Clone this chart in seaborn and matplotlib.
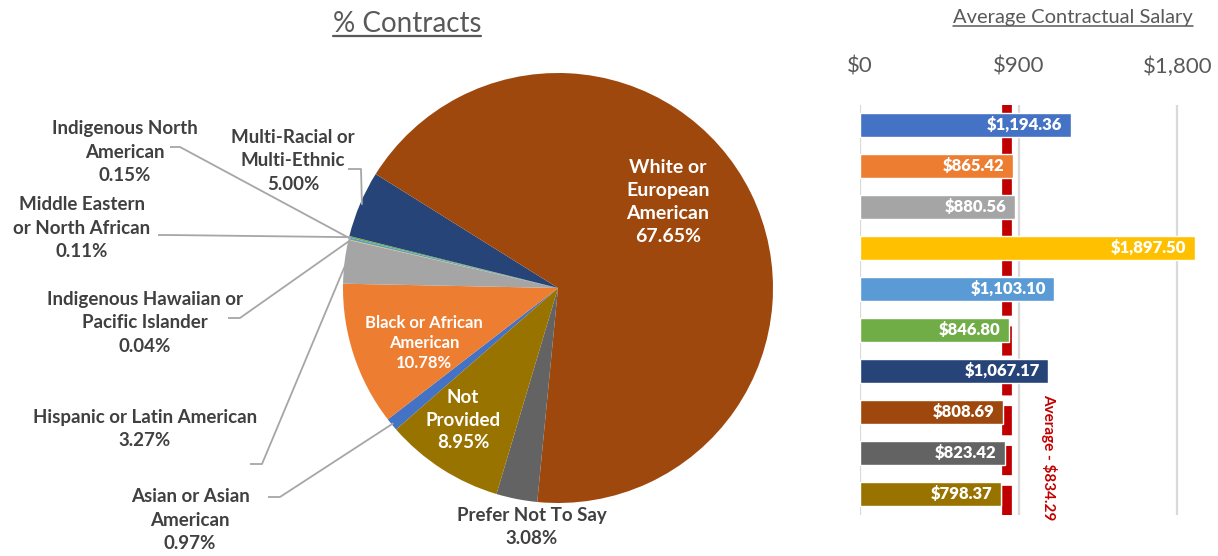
import numpy as np
import pandas as pd
import matplotlib.pyplot as plt
from matplotlib.lines import Line2D
import seaborn as sns

# data
groups = ['Asian or Asian American', 'Black or African American', 'Hispanic or Latin American',
          'Indigenous Hawaiian or Pacific Islander', 'Indigenous North American',
          'Middle Eastern or North African', 'Multi-Racial or Multi-Ethnic',
          'White or European American', 'Prefer Not To Say', 'Not Provided']
pct = [0.97, 10.78, 3.27, 0.04, 0.15, 0.11, 5.00, 67.65, 3.08, 8.95]
salary = [1194.36, 865.42, 880.56, 1897.50, 1103.10, 846.80, 1067.17, 808.69, 823.42, 798.37]
avg_salary = 834.29
colors = ['#4472C4', '#ED7D31', '#A5A5A5', '#FFC000', '#5B9BD5',
          '#70AD47', '#264478', '#9E480E', '#636363', '#997300']
pie_text = ['Asian or Asian\nAmerican', 'Black or African\nAmerican', 'Hispanic or Latin American',
            'Indigenous Hawaiian or\nPacific Islander', 'Indigenous North\nAmerican',
            'Middle Eastern\nor North African', 'Multi-Racial or\nMulti-Ethnic',
            'White or\nEuropean\nAmerican', 'Prefer Not To Say', 'Not\nProvided']
salary_ticks = [0, 900, 1800]

sns.set_style('white')
plt.rcParams['font.family'] = ['Lato', 'DejaVu Sans']

W, H = 1218, 556
fig = plt.figure(figsize=(W / 100, H / 100), dpi=100)

# ---- pie (axes in pixel units, y up) ----
ax = fig.add_axes([0, 0, 1, 1])
cx, cy, R = 558, H - 288, 215
wedges, _ = ax.pie(pct, colors=colors, startangle=221.15, counterclock=False,
                   center=(cx, cy), radius=R, wedgeprops=dict(linewidth=0))
ax.set_xlim(0, W)
ax.set_ylim(0, H)
ax.set_aspect('equal')
ax.axis('off')

dark = '#404040'
grey_line = '#A6A6A6'


def edge_point(i, r=R):
    w = wedges[i]
    a = np.deg2rad((w.theta1 + w.theta2) / 2)
    return cx + r * np.cos(a), cy + r * np.sin(a)


# outside labels: index, text pos (px from top), elbow start, elbow end
outside = [
    (4, (125, 152), (170, 147), (180, 147)),
    (6, (293, 161), (348, 169), (361, 169)),
    (5, (82, 228), (158, 235), (168, 235)),
    (3, (145, 323), (228, 318), (240, 318)),
    (2, (145, 429), (250, 464), (262, 464)),
    (0, (190, 520), (268, 497), (280, 497)),
]
for i, (tx, ty), (x1, y1), (x2, y2) in outside:
    ax.text(tx, H - ty, f'{pie_text[i]}\n{pct[i]:.2f}%', ha='center', va='center',
            fontsize=13.5, fontweight='bold', color=dark, linespacing=1.45)
    ex, ey = edge_point(i, R - 2)
    ax.plot([x1, x2, ex], [H - y1, H - y2, ey], color=grey_line, lw=1.3,
            solid_capstyle='butt')

ax.text(532, H - 527, f'{pie_text[8]}\n{pct[8]:.2f}%', ha='center', va='center',
        fontsize=13.5, fontweight='bold', color=dark, linespacing=1.45)

inside = [(7, (668, 202), 14, 1.45), (1, (424, 343), 12, 1.33), (9, (463, 420), 13.5, 1.42)]
for i, (tx, ty), fs, ls in inside:
    ax.text(tx, H - ty, f'{pie_text[i]}\n{pct[i]:.2f}%', ha='center', va='center',
            fontsize=fs, fontweight='bold', color='white', linespacing=ls)

# ---- bars ----
df = pd.DataFrame({'group': groups, 'salary': salary})
bx = fig.add_axes([860 / W, (H - 514.5) / H, 335 / W, 410 / H])
sns.barplot(data=df, x='salary', y='group', hue='group', palette=colors,
            legend=False, width=0.58, saturation=1, ax=bx)
bx.set_xlim(0, 1900)
bx.set_ylim(9.5, -0.5)
bx.set_xticks(salary_ticks)
bx.set_xticklabels([f'${v:,.0f}' for v in salary_ticks])
bx.xaxis.tick_top()
bx.tick_params(axis='x', length=0, pad=20, labelsize=16, labelcolor='#595959')
bx.set_yticks([])
bx.set_xlabel('')
bx.set_ylabel('')
for s in bx.spines.values():
    s.set_visible(False)
bx.xaxis.grid(True, color='#D9D9D9', lw=1.6)
bx.set_axisbelow(True)
bx.axvline(avg_salary, color='#C00000', lw=7, dashes=(3, 1.1), zorder=0.8)
for c in bx.containers:
    vals = [p.get_width() for p in c]
    anns = bx.bar_label(c, labels=[f'${v:,.2f}' for v in vals], padding=-6, color='white',
                        fontsize=12, fontweight='heavy')
    for a in anns:
        a.set_ha('right')
for p in bx.patches:
    p.set_clip_on(False)
bx.text(1072, 8.1, f'Average - ${avg_salary:,.2f}', rotation=270, ha='center', va='center',
        fontsize=11, fontweight='bold', color='#C00000', clip_on=False)

# ---- titles with underline ----
t1 = fig.text(407 / W, 1 - 24 / H, '% Contracts', ha='center', va='center',
              fontsize=20, color='#595959')
t2 = fig.text(1073 / W, 1 - 18 / H, 'Average Contractual Salary', ha='center', va='center',
              fontsize=14.5, color='#595959')
fig.canvas.draw()
r = fig.canvas.get_renderer()
for t, lw in [(t1, 1.6), (t2, 1.1)]:
    bb = t.get_window_extent(r)
    y = (bb.y0 + 1) / H
    fig.add_artist(Line2D([bb.x0 / W, bb.x1 / W], [y, y], color='#595959', lw=lw))

fig.savefig('out.png', dpi=100)
